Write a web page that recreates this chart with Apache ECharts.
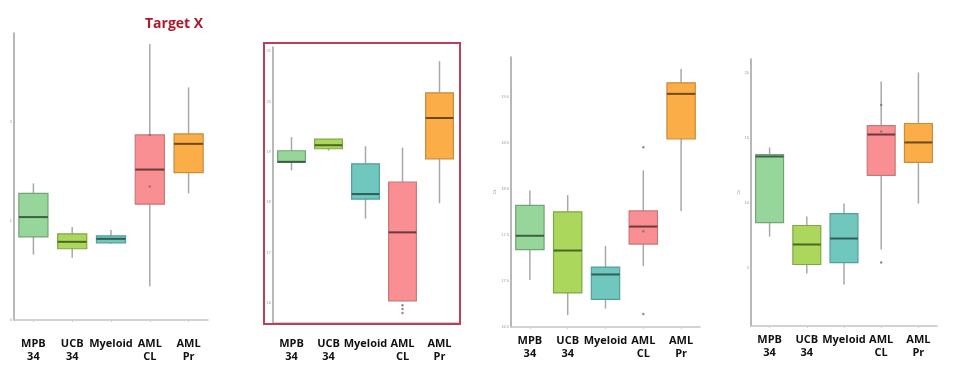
<!DOCTYPE html>
<html>
<head>
<meta charset="utf-8">
<script src="https://cdn.jsdelivr.net/npm/echarts@6/dist/echarts.min.js"></script>
<style>
html,body{margin:0;padding:0;background:#fff;}
#c{width:960px;height:370px;}
</style>
</head>
<body>
<div id="c"></div>
<script>
// Categories (x-axis labels)
const categories = ['MPB\n34', 'UCB\n34', 'Myeloid', 'AML\nCL', 'AML\nPr'];

// Box stats per category: [low whisker, Q1, median, Q3, high whisker]
const panel1Boxes = [
  [0.66, 0.84, 1.04, 1.28, 1.38],
  [0.63, 0.72, 0.79, 0.87, 0.94],
  [0.77, 0.78, 0.82, 0.85, 0.91],
  [0.34, 1.17, 1.52, 1.87, 2.79],
  [1.28, 1.49, 1.78, 1.88, 2.35]
];
const panel2Boxes = [
  [18.63, 18.79, 18.80, 19.02, 19.29],
  [19.02, 19.06, 19.13, 19.25, 19.25],
  [17.67, 18.06, 18.16, 18.76, 19.11],
  [16.03, 16.04, 17.40, 18.40, 19.08],
  [17.98, 18.86, 19.67, 20.17, 20.80]
];
const panel3Boxes = [
  [17.01, 17.34, 17.49, 17.82, 17.98],
  [16.63, 16.87, 17.33, 17.75, 17.93],
  [16.70, 16.80, 17.07, 17.15, 17.38],
  [17.16, 17.40, 17.59, 17.76, 18.20],
  [17.76, 18.54, 19.03, 19.15, 19.30]
];
const panel4Boxes = [
  [7.38, 8.46, 13.54, 13.69, 14.23],
  [4.54, 5.23, 6.77, 8.23, 8.92],
  [3.69, 5.38, 7.23, 9.15, 9.92],
  [6.38, 12.08, 15.23, 15.92, 19.31],
  [9.92, 13.08, 14.62, 16.08, 20.00]
];

// Extra points (outliers / means): [category index, value]
const panel1Points = [[3, 1.35], [3, 1.87]];
const panel2Points = [[3, 15.95], [3, 15.88], [3, 15.80]];
const panel3Points = [[3, 18.45], [3, 16.64], [3, 17.54]];
const panel4Points = [[3, 5.38], [3, 17.5], [3, 15.46]];

// Colours per category
const fillColors = ['#97d69b', '#aad75c', '#6fc7bd', '#f98f92', '#fbad48'];
const borderColors = ['#72a276', '#82a646', '#52a099', '#c8777a', '#c98b3c'];
const medianColors = ['#3f5f43', '#4d6626', '#2f5e59', '#6a3a3c', '#6a4a1e'];

function stepLabel(step, digits) {
  return v => (Math.abs(v / step - Math.round(v / step)) < 1e-6) ? v.toFixed(digits) : '';
}

const grids = [
  {left: 14, top: 33, width: 194, height: 287},
  {left: 273, top: 47, width: 185, height: 276},
  {left: 511, top: 57, width: 189, height: 270},
  {left: 751, top: 59, width: 186, height: 267}
];
const yAxesCfg = [
  {min: 0, max: 2.9, interval: 1, fmt: stepLabel(1, 0)},
  {min: 15.6, max: 21.08, interval: 0.2, fmt: stepLabel(1, 0)},
  {min: 16.5, max: 19.43, interval: 0.5, fmt: stepLabel(0.5, 1)},
  {min: 0.5, max: 21.04, interval: 0.5, fmt: stepLabel(5, 0)}
];
const labelMargins = [17, 14, 7, 7];
const yNames = ['', '', 'Ct', 'Ct'];
const boxSets = [panel1Boxes, panel2Boxes, panel3Boxes, panel4Boxes];
const pointSets = [panel1Points, panel2Points, panel3Points, panel4Points];

function renderBox(params, api) {
  const ci = api.value(0);
  const pLow = api.coord([ci, api.value(1)]);
  const pQ1 = api.coord([ci, api.value(2)]);
  const pMed = api.coord([ci, api.value(3)]);
  const pQ3 = api.coord([ci, api.value(4)]);
  const pHigh = api.coord([ci, api.value(5)]);
  const band = api.size([1, 0])[0];
  const bw = band * 0.75;
  const x0 = pQ1[0] - bw / 2;
  return {
    type: 'group',
    children: [
      {type: 'line', shape: {x1: pLow[0], y1: pLow[1], x2: pHigh[0], y2: pHigh[1]},
       style: {stroke: '#a8a8a8', lineWidth: 1.5}},
      {type: 'rect', shape: {x: x0, y: pQ3[1], width: bw, height: pQ1[1] - pQ3[1]},
       style: {fill: fillColors[ci], stroke: borderColors[ci], lineWidth: 1.2}},
      {type: 'line', shape: {x1: x0, y1: pMed[1], x2: x0 + bw, y2: pMed[1]},
       style: {stroke: medianColors[ci], lineWidth: 2}}
    ]
  };
}

const xAxis = [], yAxis = [], series = [];
grids.forEach((g, i) => {
  xAxis.push({
    type: 'category', gridIndex: i, data: categories,
    axisLine: {lineStyle: {color: '#c4c4c4', width: 1.5}},
    axisTick: {show: true, alignWithLabel: true, length: 2, lineStyle: {color: '#d0d0d0'}},
    axisLabel: {color: '#111', fontFamily: 'Open Sans', fontWeight: 'bold', fontSize: 11,
                lineHeight: 13, margin: labelMargins[i], interval: 0},
    splitLine: {show: false}
  });
  const yc = yAxesCfg[i];
  yAxis.push({
    type: 'value', gridIndex: i, min: yc.min, max: yc.max, interval: yc.interval,
    name: yNames[i], nameLocation: 'middle', nameGap: 9, nameRotate: 90,
    nameTextStyle: {fontSize: 4, color: '#888'},
    axisLine: {show: true, lineStyle: {color: '#a0a0a0', width: 1.5}},
    axisTick: {show: false},
    axisLabel: {fontSize: 4, color: '#999', margin: 2, formatter: yc.fmt},
    splitLine: {show: false}
  });
  series.push({
    type: 'custom', xAxisIndex: i, yAxisIndex: i,
    data: boxSets[i].map((b, k) => [k].concat(b)),
    encode: {x: 0, y: [1, 2, 3, 4, 5]},
    renderItem: renderBox, silent: true
  });
  series.push({
    type: 'scatter', xAxisIndex: i, yAxisIndex: i,
    data: pointSets[i], symbolSize: 2.5,
    itemStyle: {color: '#8a6a6a'}, silent: true, z: 5
  });
});

const chart = echarts.init(document.getElementById('c'), null, {renderer: 'canvas'});
chart.setOption({
  animation: false,
  backgroundColor: '#ffffff',
  title: {text: 'Target X', left: 140, top: 12,
          textStyle: {color: '#b0192a', fontFamily: 'Open Sans', fontWeight: 'bold', fontSize: 14}},
  grid: grids,
  xAxis: xAxis,
  yAxis: yAxis,
  series: series,
  graphic: [{
    type: 'rect', shape: {x: 264, y: 43, width: 196, height: 281},
    style: {fill: null, stroke: '#b8405a', lineWidth: 2}, z: 100, silent: true
  }]
});
</script>
</body>
</html>
